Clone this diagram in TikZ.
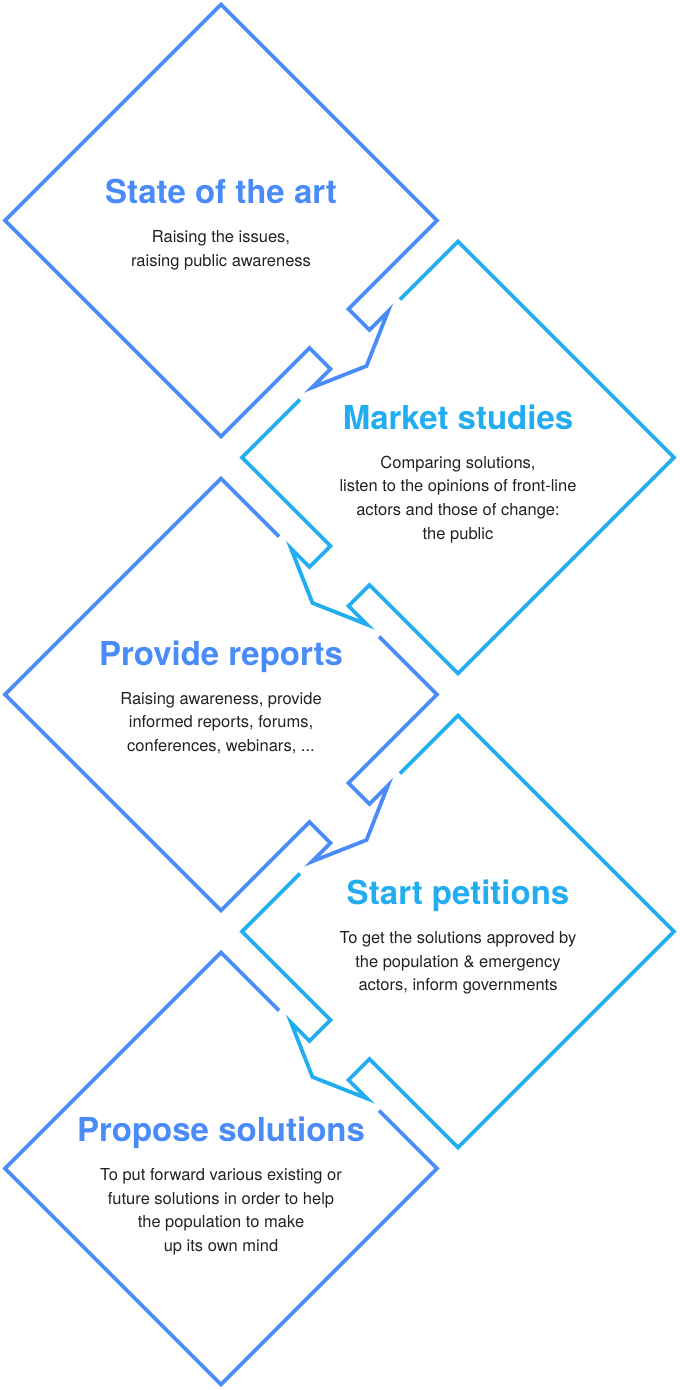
\documentclass[tikz,border=0pt]{standalone}
\usepackage{fontspec}
\setmainfont{TeX Gyre Heros}
\definecolor{dblue}{HTML}{4A8CF7}
\definecolor{lblue}{HTML}{22ADF0}
\definecolor{txt}{HTML}{222222}
\newcommand{\bodylines}[1]{\begin{tabular}[t]{@{}c@{}}#1\end{tabular}}
\tikzset{
  outline/.style={line width=3.8pt, line join=miter, miter limit=12},
  ttl/.style={font=\fontsize{33}{38}\selectfont\bfseries, anchor=base, inner sep=0pt},
  bodytext/.style={font=\fontsize{16.5}{23.7}\selectfont, text=txt, anchor=base, inner sep=0pt},
}
\begin{document}
\begin{tikzpicture}[x=1pt, y=-1pt]
\useasboundingbox (0,0) rectangle (680,1390);
\coordinate (c1) at (221,220.5);
\coordinate (c2) at (458,457.5);
\coordinate (c3) at (221,694.5);
\coordinate (c4) at (458,931.5);
\coordinate (c5) at (221,1168.5);

% Diamond 1 with connector to diamond 2
\begin{scope}[shift={(c1)}]
\draw[outline, dblue] (216,0) -- (0,-216) -- (-216,0) -- (0,216)
  -- (88.5,127.5) -- (109.5,148.5) -- (91,167) -- (145.5,145.5)
  -- (167,91) -- (148.5,109.5) -- (127.5,88.5) -- cycle;
\end{scope}

% Diamond 2 with connector to diamond 3
\begin{scope}[shift={(c2)}]
\draw[outline, lblue] (-58,-158) -- (0,-216) -- (216,0) -- (0,216)
  -- (-88.5,127.5) -- (-109.5,148.5) -- (-91,167) -- (-145.5,145.5)
  -- (-167,91) -- (-148.5,109.5) -- (-127.5,88.5) -- (-216,0) -- (-158,-58);
\end{scope}

% Diamond 3 with connector to diamond 4
\begin{scope}[shift={(c3)}]
\draw[outline, dblue] (58,-158) -- (0,-216) -- (-216,0) -- (0,216)
  -- (88.5,127.5) -- (109.5,148.5) -- (91,167) -- (145.5,145.5)
  -- (167,91) -- (148.5,109.5) -- (127.5,88.5) -- (216,0) -- (158,-58);
\end{scope}

% Diamond 4 with connector to diamond 5
\begin{scope}[shift={(c4)}]
\draw[outline, lblue] (-58,-158) -- (0,-216) -- (216,0) -- (0,216)
  -- (-88.5,127.5) -- (-109.5,148.5) -- (-91,167) -- (-145.5,145.5)
  -- (-167,91) -- (-148.5,109.5) -- (-127.5,88.5) -- (-216,0) -- (-158,-58);
\end{scope}

% Diamond 5
\begin{scope}[shift={(c5)}]
\draw[outline, dblue] (58,-158) -- (0,-216) -- (-216,0) -- (0,216)
  -- (216,0) -- (158,-58);
\end{scope}

% Texts
\node[ttl, text=dblue] (t1) at (221,203.5) {State of the art};
\node[bodytext] (b1) at (221,242.5) {\bodylines{Raising the issues,\\raising public awareness}};

\node[ttl, text=lblue] (t2) at (458,429) {Market studies};
\node[bodytext] (b2) at (458,468) {\bodylines{Comparing solutions,\\listen to the opinions of front-line\\actors and those of change:\\the public}};

\node[ttl, text=dblue] (t3) at (221,665.5) {Provide reports};
\node[bodytext] (b3) at (221,704) {\bodylines{Raising awareness, provide\\informed reports, forums,\\conferences, webinars, ...}};

\node[ttl, text=lblue] (t4) at (458,904.5) {Start petitions};
\node[bodytext] (b4) at (458,943.5) {\bodylines{To get the solutions approved by\\the population \& emergency\\actors, inform governments}};

\node[ttl, text=dblue] (t5) at (221,1141.5) {Propose solutions};
\node[bodytext] (b5) at (221,1180.5) {\bodylines{To put forward various existing or\\future solutions in order to help\\the population to make\\up its own mind}};
\end{tikzpicture}
\end{document}
